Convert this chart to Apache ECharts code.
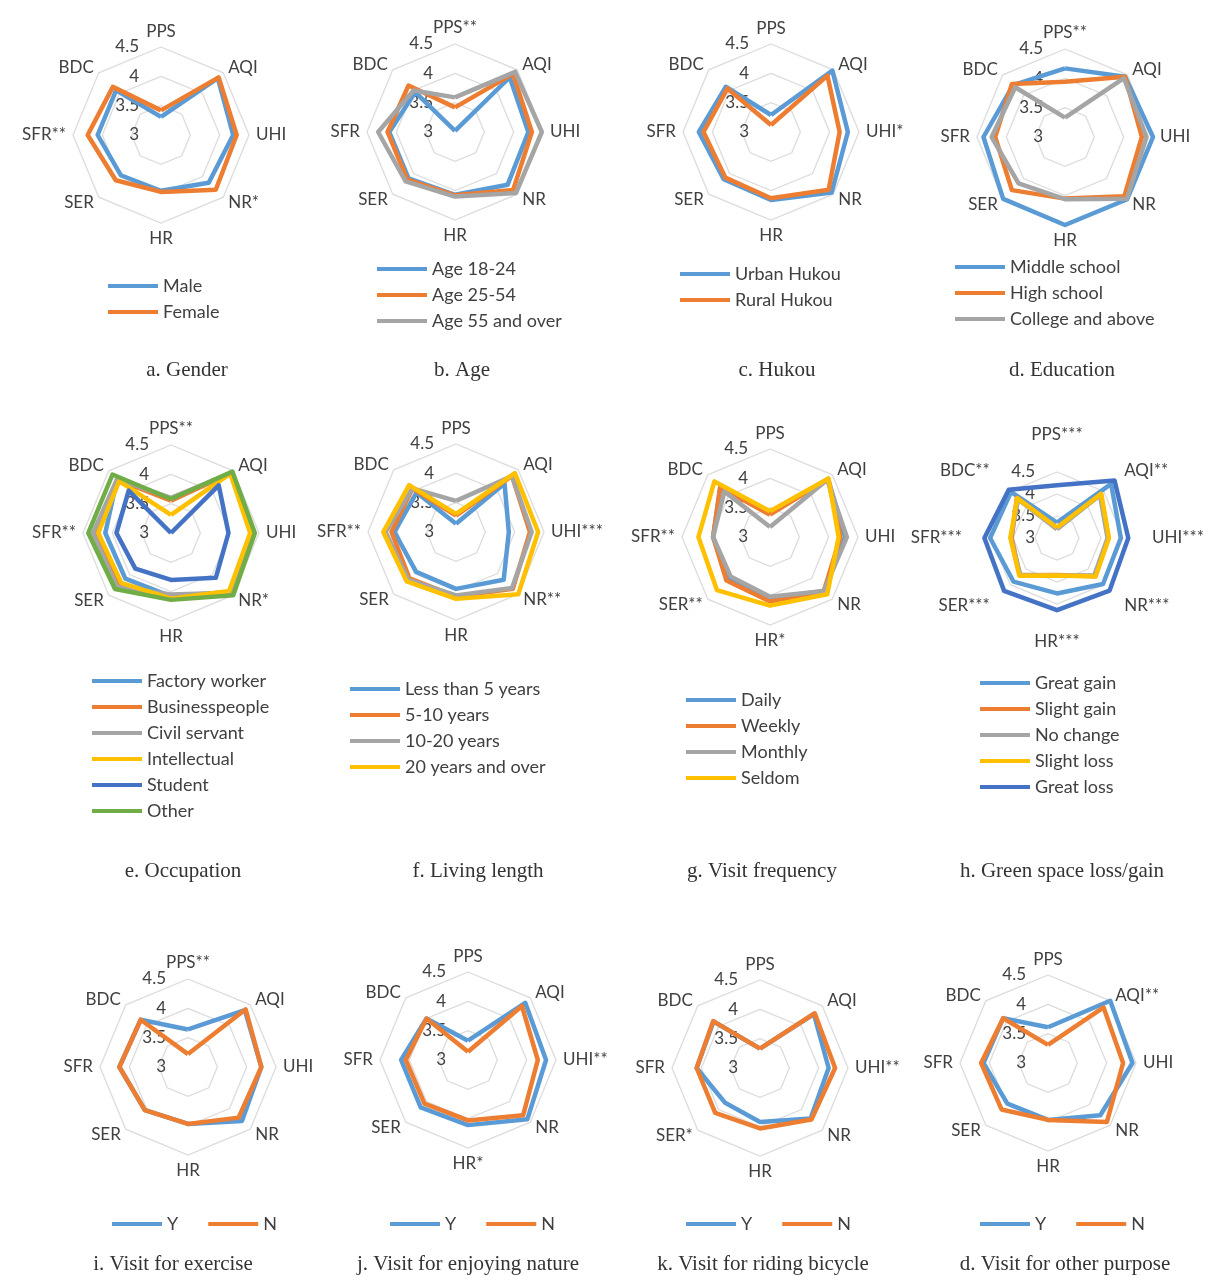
<!DOCTYPE html>
<html>
<head>
<meta charset="utf-8">
<script src="https://cdn.jsdelivr.net/npm/echarts@6/dist/echarts.min.js"></script>
<style>
  html, body { margin: 0; padding: 0; background: #ffffff; }
  #chart { width: 1210px; height: 1276px; }
</style>
</head>
<body>
<div id="chart"></div>
<script>
// Every value row is ordered clockwise from the top: PPS, AQI, UHI, NR, HR, SER, SFR, BDC
const radarTicks = [3, 3.5, 4, 4.5];
const radarTicksWide = [3, 3.5, 4, 4.5, 5];   // panel h runs past 4.5

// a. Gender
const genderAxes = ['PPS', 'AQI', 'UHI', 'NR*', 'HR', 'SER', 'SFR**', 'BDC'];
const genderNames = ['Male', 'Female'];
const genderMale = [3.31, 4.37, 4.23, 4.15, 3.95, 3.97, 4.08, 4.08];
const genderFemale = [3.42, 4.39, 4.29, 4.32, 3.97, 4.09, 4.25, 4.16];

// b. Age
const ageAxes = ['PPS**', 'AQI', 'UHI', 'NR', 'HR', 'SER', 'SFR', 'BDC'];
const ageNames = ['Age 18-24', 'Age 25-54', 'Age 55 and over'];
const age18to24 = [3.02, 4.32, 4.25, 4.27, 4.07, 4.12, 4.12, 3.96];
const age25to54 = [3.42, 4.40, 4.31, 4.40, 4.08, 4.15, 4.15, 4.12];
const age55over = [3.59, 4.45, 4.48, 4.47, 4.10, 4.19, 4.31, 4.00];

// c. Hukou
const hukouAxes = ['PPS', 'AQI', 'UHI*', 'NR', 'HR', 'SER', 'SFR', 'BDC'];
const hukouNames = ['Urban Hukou', 'Rural Hukou'];
const hukouUrban = [3.29, 4.48, 4.31, 4.46, 4.16, 4.14, 4.23, 4.09];
const hukouRural = [3.12, 4.36, 4.17, 4.39, 4.13, 4.10, 4.15, 4.05];

// d. Education
const eduAxes = ['PPS**', 'AQI', 'UHI', 'NR', 'HR', 'SER', 'SFR', 'BDC'];
const eduNames = ['Middle school', 'High school', 'College and above'];
const eduMiddle = [4.17, 4.45, 4.50, 4.50, 4.50, 4.49, 4.39, 4.25];
const eduHigh = [3.94, 4.45, 4.31, 4.43, 4.05, 4.28, 4.19, 4.28];
const eduCollege = [3.33, 4.42, 4.39, 4.49, 4.06, 4.12, 4.25, 4.20];

// e. Occupation
const occAxes = ['PPS**', 'AQI', 'UHI', 'NR*', 'HR', 'SER', 'SFR**', 'BDC'];
const occNames = ['Factory worker', 'Businesspeople', 'Civil servant', 'Intellectual', 'Student', 'Other'];
const occFactory = [3.58, 4.45, 4.36, 4.42, 4.08, 4.10, 4.12, 4.30];
const occBusiness = [3.55, 4.45, 4.37, 4.45, 4.10, 4.25, 4.30, 4.28];
const occCivil = [3.60, 4.44, 4.38, 4.44, 4.05, 4.30, 4.33, 4.30];
const occIntellectual = [3.31, 4.43, 4.35, 4.40, 4.12, 4.20, 4.24, 4.25];
const occStudent = [3.00, 4.15, 3.98, 4.08, 3.80, 3.86, 3.93, 4.02];
const occOther = [3.58, 4.48, 4.43, 4.50, 4.14, 4.35, 4.41, 4.41];

// f. Living length
const livAxes = ['PPS', 'AQI', 'UHI***', 'NR**', 'HR', 'SER', 'SFR**', 'BDC'];
const livNames = ['Less than 5 years', '5-10 years', '10-20 years', '20 years and over'];
const livUnder5 = [3.14, 4.17, 3.90, 4.15, 3.97, 3.96, 4.05, 3.95];
const liv5to10 = [3.28, 4.35, 4.26, 4.37, 4.10, 4.12, 4.10, 4.05];
const liv10to20 = [3.53, 4.35, 4.29, 4.35, 4.08, 4.15, 4.20, 4.05];
const liv20over = [3.31, 4.42, 4.40, 4.50, 4.14, 4.19, 4.24, 4.13];

// g. Visit frequency
const freqAxes = ['PPS', 'AQI', 'UHI', 'NR', 'HR*', 'SER**', 'SFR**', 'BDC'];
const freqNames = ['Daily', 'Weekly', 'Monthly', 'Seldom'];
const freqDaily = [3.40, 4.40, 4.28, 4.30, 4.05, 4.00, 3.97, 4.20];
const freqWeekly = [3.38, 4.40, 4.20, 4.30, 4.10, 4.05, 3.97, 4.20];
const freqMonthly = [3.17, 4.38, 4.31, 4.30, 4.02, 3.95, 3.97, 4.10];
const freqSeldom = [3.44, 4.41, 4.17, 4.38, 4.17, 4.28, 4.22, 4.34];

// h. Green space loss/gain
const greenAxes = ['PPS***', 'AQI**', 'UHI***', 'NR***', 'HR***', 'SER***', 'SFR***', 'BDC**'];
const greenNames = ['Great gain', 'Slight gain', 'No change', 'Slight loss', 'Great loss'];
const greenGreatGain = [3.35, 4.74, 4.45, 4.48, 4.26, 4.40, 4.52, 4.48];
const greenSlightGain = [3.22, 4.41, 4.17, 4.23, 3.84, 4.20, 4.03, 4.29];
const greenNoChange = [3.20, 4.38, 4.15, 4.20, 3.86, 4.18, 4.05, 4.25];
const greenSlightLoss = [3.24, 4.42, 4.18, 4.24, 3.85, 4.21, 4.06, 4.28];
const greenGreatLoss = [4.20, 4.85, 4.62, 4.69, 4.64, 4.70, 4.65, 4.55];

// i-l. Visit purposes (Y / N)
const ynNames = ['Y', 'N'];
const exerciseAxes = ['PPS**', 'AQI', 'UHI', 'NR', 'HR', 'SER', 'SFR', 'BDC'];
const exerciseY = [3.64, 4.37, 4.25, 4.30, 3.97, 4.04, 4.17, 4.14];
const exerciseN = [3.22, 4.39, 4.25, 4.22, 3.97, 4.04, 4.17, 4.14];
const natureAxes = ['PPS', 'AQI', 'UHI**', 'NR', 'HR*', 'SER', 'SFR', 'BDC'];
const natureY = [3.33, 4.38, 4.33, 4.43, 4.11, 4.14, 4.14, 4.00];
const natureN = [3.14, 4.30, 4.19, 4.33, 4.03, 4.05, 4.06, 4.00];
const bicycleAxes = ['PPS', 'AQI', 'UHI**', 'NR', 'HR', 'SER*', 'SFR', 'BDC'];
const bicycleY = [3.33, 4.30, 4.17, 4.22, 3.92, 3.84, 4.08, 4.12];
const bicycleN = [3.33, 4.32, 4.28, 4.24, 4.03, 4.08, 4.08, 4.13];
const otherAxes = ['PPS', 'AQI**', 'UHI', 'NR', 'HR', 'SER', 'SFR', 'BDC'];
const otherY = [3.61, 4.50, 4.44, 4.26, 3.97, 3.98, 4.10, 4.08];
const otherN = [3.31, 4.34, 4.28, 4.42, 3.97, 4.12, 4.14, 4.08];

// Office-style series colours
const BLUE = '#5B9BD5', ORANGE = '#ED7D31', GRAY = '#A5A5A5', GOLD = '#FFC000', NAVY = '#4472C4', GREEN = '#70AD47';

const panels = [
  { title: 'a. Gender', axes: genderAxes, names: genderNames, rows: [genderMale, genderFemale], colors: [BLUE, ORANGE],
    center: [161, 135], titlePos: [187, 360], legend: { left: 108, top: 276 } },
  { title: 'b. Age', axes: ageAxes, names: ageNames, rows: [age18to24, age25to54, age55over], colors: [BLUE, ORANGE, GRAY],
    center: [455, 132], titlePos: [462, 360], legend: { left: 377, top: 259 } },
  { title: 'c. Hukou', axes: hukouAxes, names: hukouNames, rows: [hukouUrban, hukouRural], colors: [BLUE, ORANGE],
    center: [771, 132], titlePos: [777, 360], legend: { left: 680, top: 264 } },
  { title: 'd. Education', axes: eduAxes, names: eduNames, rows: [eduMiddle, eduHigh, eduCollege], colors: [BLUE, ORANGE, GRAY],
    center: [1065, 137], titlePos: [1062, 360], legend: { left: 955, top: 257 } },
  { title: 'e. Occupation', axes: occAxes, names: occNames,
    rows: [occFactory, occBusiness, occCivil, occIntellectual, occStudent, occOther], colors: [BLUE, ORANGE, GRAY, GOLD, NAVY, GREEN],
    center: [171, 533], titlePos: [183, 861], legend: { left: 92, top: 671 } },
  { title: 'f. Living length', axes: livAxes, names: livNames, rows: [livUnder5, liv5to10, liv10to20, liv20over], colors: [BLUE, ORANGE, GRAY, GOLD],
    center: [456, 532], titlePos: [478, 861], legend: { left: 350, top: 679 } },
  { title: 'g. Visit frequency', axes: freqAxes, names: freqNames, rows: [freqDaily, freqWeekly, freqMonthly, freqSeldom], colors: [BLUE, ORANGE, GRAY, GOLD],
    center: [770, 537], titlePos: [762, 861], legend: { left: 686, top: 690 } },
  { title: 'h. Green space loss/gain', axes: greenAxes, names: greenNames, ticks: radarTicksWide,
    rows: [greenGreatGain, greenSlightGain, greenNoChange, greenSlightLoss, greenGreatLoss], colors: [BLUE, ORANGE, GRAY, GOLD, NAVY],
    center: [1057, 538], titlePos: [1062, 861], legend: { left: 980, top: 673 } },
  { title: 'i. Visit for exercise', axes: exerciseAxes, names: ynNames, rows: [exerciseY, exerciseN], colors: [BLUE, ORANGE],
    center: [188, 1067], titlePos: [173, 1254], legend: { left: 112, top: 1214, orient: 'horizontal' } },
  { title: 'j. Visit for enjoying nature', axes: natureAxes, names: ynNames, rows: [natureY, natureN], colors: [BLUE, ORANGE],
    center: [468, 1060], titlePos: [468, 1254], legend: { left: 390, top: 1214, orient: 'horizontal' } },
  { title: 'k. Visit for riding bicycle', axes: bicycleAxes, names: ynNames, rows: [bicycleY, bicycleN], colors: [BLUE, ORANGE],
    center: [760, 1068], titlePos: [763, 1254], legend: { left: 686, top: 1214, orient: 'horizontal' } },
  { title: 'd. Visit for other purpose', axes: otherAxes, names: ynNames, rows: [otherY, otherN], colors: [BLUE, ORANGE],
    center: [1048, 1063], titlePos: [1065, 1254], legend: { left: 980, top: 1214, orient: 'horizontal' } }
];

// ECharts lays indicators out counter-clockwise; this index order puts them clockwise from the top.
const clockwiseOrder = [0, 7, 6, 5, 4, 3, 2, 1];
const TEXT = '#404040';
const SANS = 'Lato, "Open Sans", sans-serif';
const RING = '#DCDCDC';

const radars = panels.map(p => {
  const ticks = p.ticks || radarTicks;
  const lo = ticks[0], hi = ticks[ticks.length - 1];
  // rings run from the centre outward; the outermost ring of an extended scale stays unlabelled and undrawn
  const ringColors = ticks.map((t, i) => (p.ticks && i === ticks.length - 1) ? 'rgba(0,0,0,0)' : RING);
  return {
    center: p.center,
    radius: 88,
    startAngle: 90,
    shape: 'polygon',
    splitNumber: ticks.length - 1,
    nameGap: 7,
    axisName: { color: TEXT, fontSize: 17, fontFamily: SANS },
    indicator: clockwiseOrder.map((k, j) => ({
      name: p.axes[k],
      min: lo,
      max: hi,
      axisLabel: j === 0
        ? { show: true, color: TEXT, fontSize: 17, fontFamily: SANS, margin: 22,
            formatter: v => (p.ticks && v === hi) ? '' : String(v) }
        : { show: false }
    })),
    splitLine: { lineStyle: { color: ringColors, width: 1.3 } },
    splitArea: { show: false },
    axisLine: { show: false },
    axisTick: { show: false },
    axisLabel: { show: false }
  };
});

const series = panels.map((p, i) => ({
  type: 'radar',
  radarIndex: i,
  symbol: 'none',
  silent: true,
  data: p.rows.map((row, s) => ({
    name: p.names[s],
    value: clockwiseOrder.map(k => row[k]),
    lineStyle: { color: p.colors[s], width: 4.5, join: 'round' },
    itemStyle: { color: p.colors[s] }
  }))
}));

const legends = panels.map(p => ({
  data: p.names,
  left: p.legend.left,
  top: p.legend.top,
  orient: p.legend.orient || 'vertical',
  icon: 'rect',
  itemWidth: 50,
  itemHeight: 4,
  itemGap: p.legend.orient === 'horizontal' ? 30 : 6,
  padding: 0,
  selectedMode: false,
  textStyle: { color: TEXT, fontSize: 18, fontFamily: SANS, lineHeight: 20 }
}));

const titles = panels.map(p => ({
  text: p.title,
  left: p.titlePos[0],
  top: p.titlePos[1],
  textAlign: 'center',
  padding: 0,
  textStyle: { color: '#333333', fontSize: 21, fontWeight: 'normal', fontFamily: '"Liberation Serif", serif' }
}));

const chart = echarts.init(document.getElementById('chart'), null, { renderer: 'canvas' });
chart.setOption({
  backgroundColor: '#ffffff',
  animation: false,
  title: titles,
  legend: legends,
  radar: radars,
  series: series
});
</script>
</body>
</html>
